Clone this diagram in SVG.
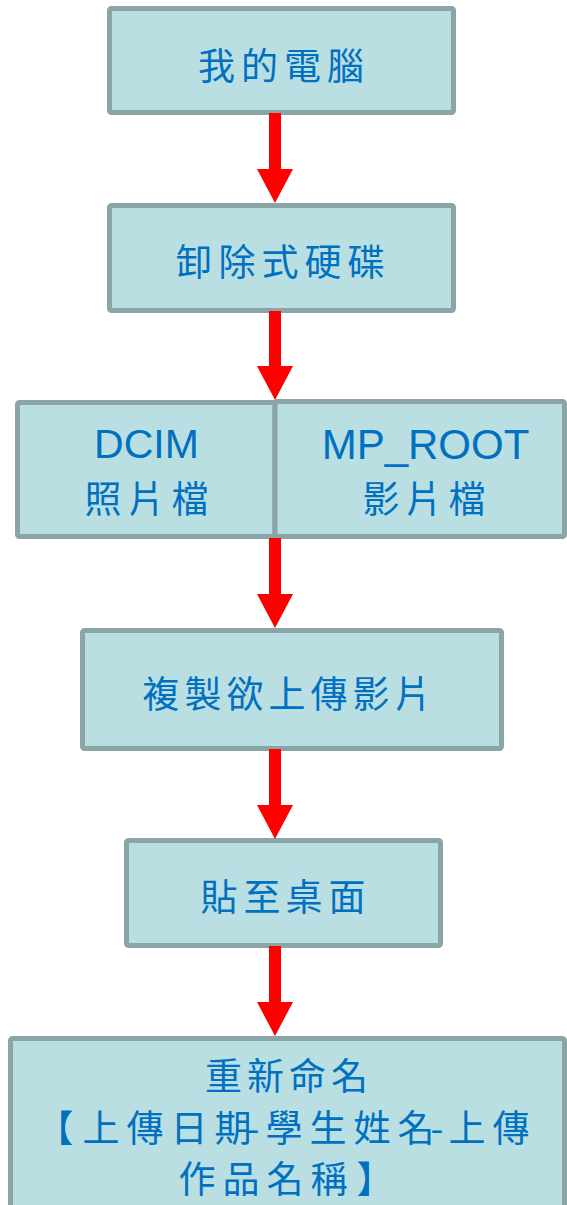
<svg xmlns="http://www.w3.org/2000/svg" width="567" height="1205" viewBox="0 0 567 1205">
<style>
.box{fill:#badfe3;stroke:#8ba4a6;stroke-width:5}
.cjk{font-family:"Noto Sans CJK TC","Noto Sans CJK SC",sans-serif;font-size:37px;fill:#0070c0;text-anchor:middle}
.lat{font-family:"Liberation Sans",Arial,sans-serif;font-size:41px;fill:#0070c0;text-anchor:middle}
.arr{fill:#ff0000}
</style>
<rect width="567" height="1205" fill="#ffffff"/>
<g id="node1">
<rect class="box" x="109.5" y="8.5" width="344" height="104" rx="2"/>
<text class="cjk" x="216.5 259.5 302.5 345.5" y="80">我的電腦</text>
</g>
<g id="node2">
<rect class="box" x="109.5" y="205.5" width="344" height="105" rx="2"/>
<text class="cjk" x="194 237 280 323 366" y="275.5">卸除式硬碟</text>
</g>
<g id="node3a">
<rect class="box" x="17.5" y="402.5" width="257.5" height="134" rx="2"/>
<text class="lat" x="146.5" y="458">DCIM</text>
<text class="cjk" x="103 146.5 190" y="512.5">照片檔</text>
</g>
<g id="node3b">
<rect class="box" x="275" y="401.5" width="289.5" height="135" rx="2"/>
<text class="lat" x="425.5" y="459" style="font-size:42px">MP_ROOT</text>
<text class="cjk" x="381 424 467" y="513">影片檔</text>
</g>
<g id="node4">
<rect class="box" x="82.5" y="630.5" width="419" height="118" rx="2"/>
<text class="cjk" x="161 203 245 287 329 371 413" y="707.5">複製欲上傳影片</text>
</g>
<g id="node5">
<rect class="box" x="126.5" y="840.5" width="314" height="105" rx="2"/>
<text class="cjk" x="219 262 304 347" y="910.5">貼至桌面</text>
</g>
<g id="node6">
<rect class="box" x="10.5" y="1038.5" width="554" height="200" rx="2"/>
<text class="cjk" x="223.5 265.5 307.5 349.5" y="1089.5">重新命名</text>
<text class="cjk" x="55 101 145 189 233 253 284 328 372 416 437 467 511" y="1141.5">【上傳日期-學生姓名-上傳</text>
<text class="cjk" x="197 241 285 329 375" y="1192.5">作品名稱】</text>
</g>
<g id="connectors">
<path class="arr" d="M269 113H281V169H293L275 203L257 169H269Z"/>
<path class="arr" d="M269 311H281V366H293L275 400L257 366H269Z"/>
<path class="arr" d="M269 538H281V594H293L275 628L257 594H269Z"/>
<path class="arr" d="M269 749H281V805H293L275 839L257 805H269Z"/>
<path class="arr" d="M269 946H281V1002H293L275 1036L257 1002H269Z"/>
</g>
</svg>
